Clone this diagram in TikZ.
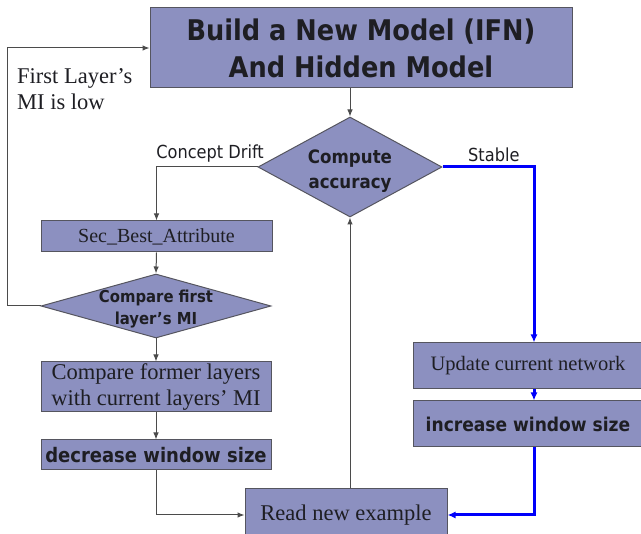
\documentclass[tikz,border=0pt]{standalone}
\usepackage{fontspec}
\setmainfont{Liberation Serif}
\newfontfamily\condsans{DejaVu Sans Condensed}
\usetikzlibrary{shapes.geometric,arrows.meta}
\definecolor{boxfill}{RGB}{140,144,192}
\definecolor{boxline}{RGB}{85,85,95}
\definecolor{inkc}{RGB}{30,30,35}
\definecolor{linec}{RGB}{75,75,75}
\definecolor{bluec}{RGB}{0,0,250}
\tikzset{
  box/.style={draw=boxline, fill=boxfill, line width=1pt, inner sep=0pt, text=inkc, align=center},
  dia/.style={draw=boxline, fill=boxfill, line width=1pt, shape=diamond, inner sep=0pt},
  diatext/.style={text=inkc, align=center, inner sep=0pt},
  conn/.style={draw=linec, line width=1pt, -{Latex[length=7pt,width=5.5pt]}},
  bconn/.style={draw=bluec, line width=3pt, -{Latex[length=8pt,width=7pt]}},
  lbl/.style={text=inkc, inner sep=0pt}
}
\begin{document}
\begin{tikzpicture}[x=1pt,y=-1pt]
\useasboundingbox (0,0) rectangle (641,534);
\clip (0,0) rectangle (641,534);
% nodes
\node[box, minimum width=422pt, minimum height=80pt,
      font=\condsans\bfseries\fontsize{28.5}{37}\selectfont] (top) at (361,48)
  {Build a New Model (IFN)\\And Hidden Model};
\node[dia, minimum width=184pt, minimum height=100pt] (acc) at (350,167) {};
\node[diatext, font=\condsans\bfseries\fontsize{18.5}{25}\selectfont] (acct) at (350,171) {Compute\\accuracy};
\node[box, minimum width=231pt, minimum height=31pt,
      font=\fontsize{20}{22}\selectfont] (sec) at (156.5,236.5) {Sec\_Best\_Attribute};
\node[dia, minimum width=230pt, minimum height=64pt] (cmp) at (156,306) {};
\node[diatext, font=\condsans\bfseries\fontsize{16.5}{22.5}\selectfont] (cmpt) at (156,309) {Compare first\\layer’s MI};
\node[box, minimum width=230pt, minimum height=50pt,
      font=\fontsize{22.5}{26}\selectfont] (former) at (156,387)
  {Compare former layers\\with current layers’ MI};
\node[box, minimum width=230pt, minimum height=30pt,
      font=\condsans\bfseries\fontsize{20}{22}\selectfont] (dec) at (156,455) {decrease window size};
\node[box, minimum width=202pt, minimum height=52pt,
      font=\fontsize{22.5}{26}\selectfont] (read) at (346,515) {Read new example};
\node[box, minimum width=230pt, minimum height=46pt,
      font=\fontsize{20.5}{24}\selectfont] (upd) at (528,366) {Update current network};
\node[box, minimum width=230pt, minimum height=46pt,
      font=\condsans\bfseries\fontsize{19}{22}\selectfont] (inc) at (528,424) {increase window size};
% labels
\node[lbl, anchor=south east, font=\condsans\fontsize{18}{21}\selectfont] (cd) at (264,162) {Concept Drift};
\node[lbl, anchor=south west, font=\condsans\fontsize{18}{21}\selectfont] (st) at (468,162) {Stable};
\node[lbl, anchor=north west, align=left, font=\fontsize{22.5}{26}\selectfont] (low) at (17,68) {First Layer’s\\MI is low};
% connectors
\draw[conn] (acc.north |- top.south) -- (acc.north);
\draw[conn] (acc.west) -| (sec.north);
\draw[conn] (sec.south) -- (cmp.north);
\draw[conn] (cmp.west) -- ++(-33,0) |- (top.west);
\draw[conn] (cmp.south) -- (former.north);
\draw[conn] (former.south) -- (dec.north);
\draw[conn] (dec.south) |- (read.west);
\draw[conn] (acc.south |- read.north) -- (acc.south);
\draw[bconn] (acc.east) -| ([xshift=6pt]upd.north);
\draw[bconn] ([xshift=6pt]upd.south) -- ([xshift=6pt]inc.north);
\draw[bconn] ([xshift=6pt]inc.south) |- (read.east);
\end{tikzpicture}
\end{document}
